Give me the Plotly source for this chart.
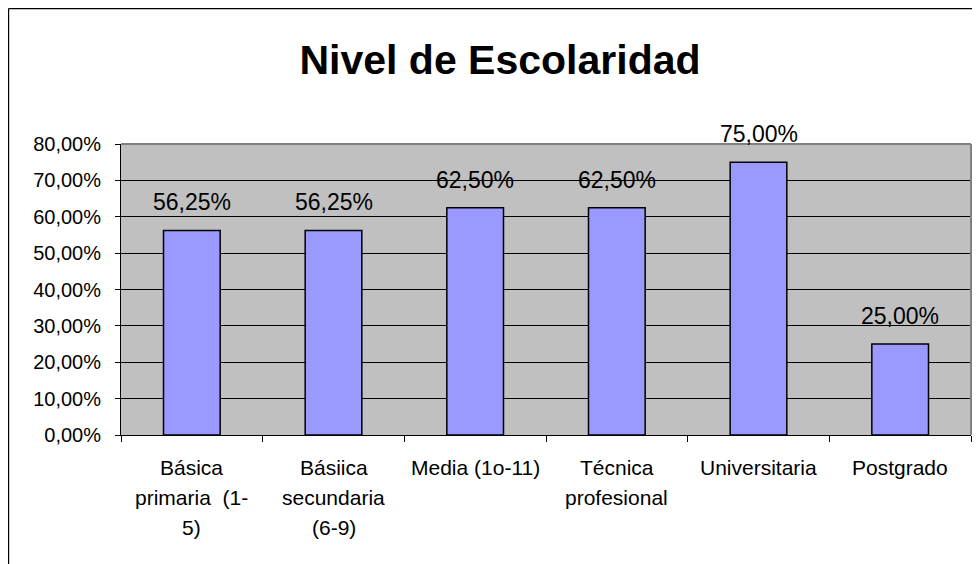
import plotly.graph_objects as go

categories = ["Básica primaria (1-5)", "Básiica secundaria (6-9)", "Media (1o-11)",
              "Técnica profesional", "Universitaria", "Postgrado"]
tick_lines = [["Básica", "primaria  (1-", "5)"],
              ["Básiica", "secundaria", "(6-9)"],
              ["Media (1o-11)"],
              ["Técnica", "profesional"],
              ["Universitaria"],
              ["Postgrado"]]
values = [0.5625, 0.5625, 0.625, 0.625, 0.75, 0.25]
y_ticks = [0, 0.1, 0.2, 0.3, 0.4, 0.5, 0.6, 0.7, 0.8]
title_text = "Nivel de Escolaridad"

FONT = "Liberation Sans, Arial, sans-serif"

fig = go.Figure()
fig.add_trace(go.Bar(
    x=categories, y=values,
    marker=dict(color="#9999FF", line=dict(color="#000000", width=1.5)),
    hoverinfo="skip",
))

annotations = []
for c, v in zip(categories, values):
    annotations.append(dict(
        x=c, y=v, xref="x", yref="y", text=f"{v*100:.2f}%".replace(".", ","),
        showarrow=False, yanchor="bottom", yshift=13,
        font=dict(family=FONT, size=23, color="#000000"),
    ))
for c, lines in zip(categories, tick_lines):
    for i, ln in enumerate(lines):
        annotations.append(dict(
            x=c, y=0, xref="x", yref="y", text=ln, showarrow=False,
            yanchor="middle", yshift=-32 - 30 * i,
            font=dict(family=FONT, size=21, color="#000000"),
        ))

W, H = 980, 564
L, R, T, B = 113, 17, 136, 137
pw, ph = W - L - R, H - T - B
fx = (0.6 - L) / pw
fy = (H - B - 0.6) / ph

shapes = [
    dict(type="line", xref="paper", yref="paper", x0=fx, x1=fx, y0=fy, y1=-1,
         line=dict(color="#000000", width=1.2)),
    dict(type="line", xref="paper", yref="paper", x0=fx, x1=2, y0=fy, y1=fy,
         line=dict(color="#000000", width=1.2)),
    dict(type="line", xref="paper", yref="paper", x0=0, x1=1, y0=1, y1=1,
         line=dict(color="#808080", width=2)),
    dict(type="line", xref="paper", yref="paper", x0=1, x1=1, y0=0, y1=1,
         line=dict(color="#808080", width=2)),
]

fig.update_layout(
    width=W, height=H,
    margin=dict(l=L, r=R, t=T, b=B),
    paper_bgcolor="#FFFFFF", plot_bgcolor="#C0C0C0",
    separators=",.",
    showlegend=False,
    bargap=0.6,
    title=dict(text=f"<b>{title_text}</b>", x=492 / W, xanchor="center",
               y=1 - 52 / H, yanchor="middle", xref="container", yref="container",
               font=dict(family=FONT, size=41, color="#000000")),
    xaxis=dict(showticklabels=False, ticks="outside", tickson="boundaries",
               ticklen=6, tickcolor="#000000", showline=True, linecolor="#000000",
               linewidth=1, showgrid=False),
    yaxis=dict(range=[0, 0.8], tickvals=y_ticks, tickformat=".2%",
               ticks="outside", ticklen=5, tickcolor="#000000",
               showline=True, linecolor="#000000", linewidth=1,
               showgrid=True, gridcolor="#000000", gridwidth=1,
               zeroline=False, ticklabelstandoff=10,
               tickfont=dict(family=FONT, size=20, color="#000000")),
    annotations=annotations,
    shapes=shapes,
)

fig.write_html("out.html")
